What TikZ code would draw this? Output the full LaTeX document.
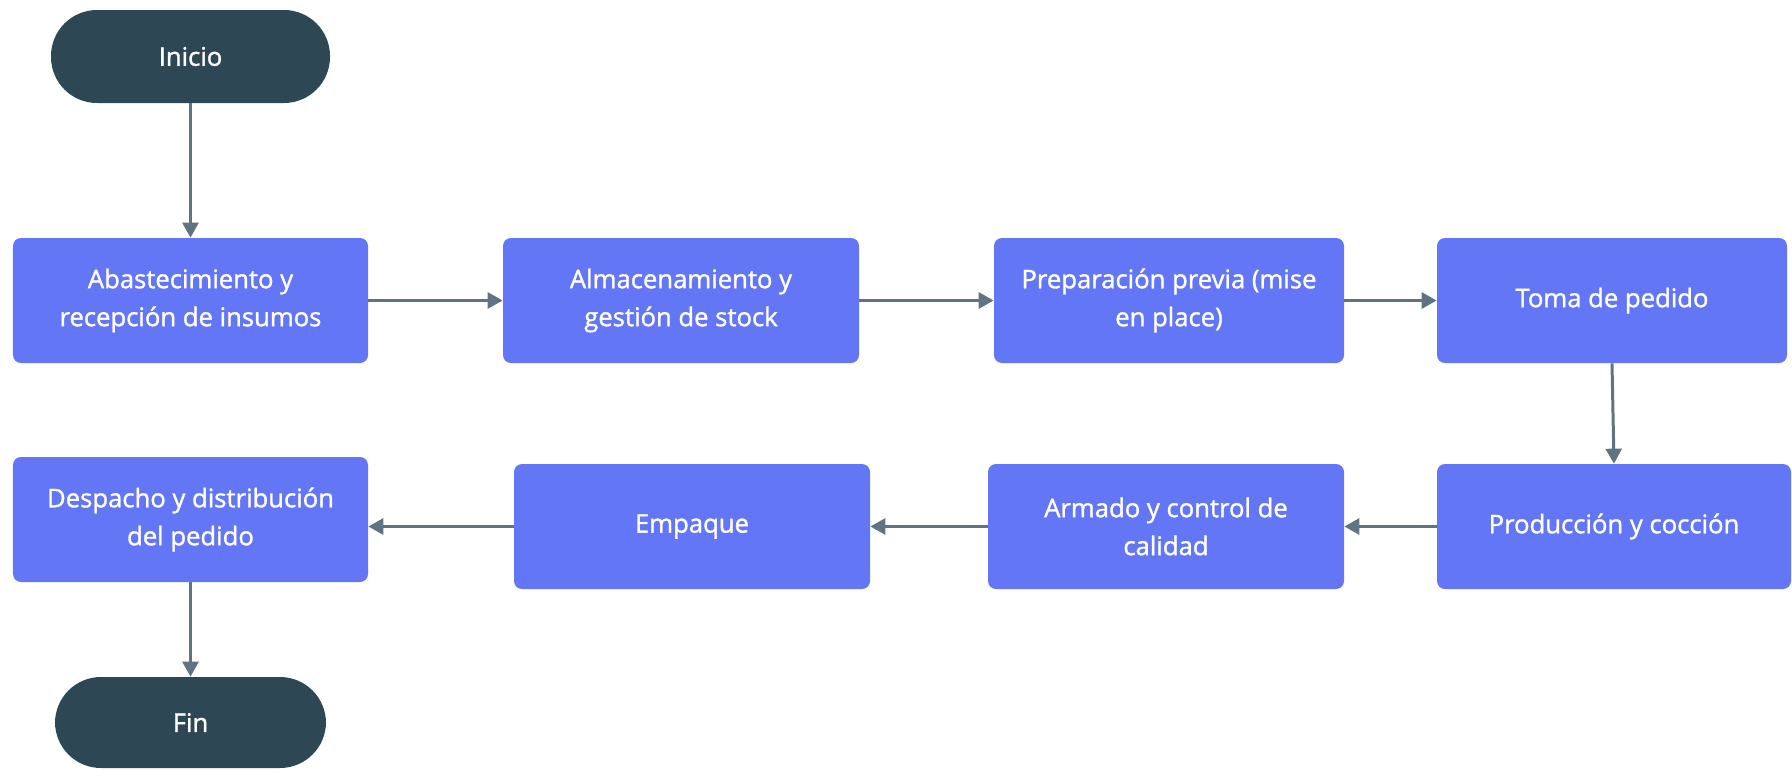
\documentclass[tikz,border=0pt]{standalone}
\usepackage{fontspec}
\setmainfont{Open Sans}[FakeBold=1.3]
\usetikzlibrary{arrows.meta}
\definecolor{boxblue}{RGB}{99,118,245}
\definecolor{termdark}{RGB}{45,71,84}
\definecolor{arrowgray}{RGB}{96,115,128}

\begin{document}
\begin{tikzpicture}
                        \tikzstyle{paso}=[fill=boxblue, text=white, rounded corners=0.16cm,
                            minimum width=7.1cm, minimum height=2.5cm, align=center,
                            font=\fontsize{14.6}{21.6}\selectfont]
                        \tikzstyle{terminal}=[fill=termdark, text=white, rounded corners=0.92cm,
                            minimum width=5.58cm, minimum height=1.86cm,
                            font=\fontsize{14.6}{21.6}\selectfont]
                        \tikzstyle{flecha}=[draw=arrowgray, line width=1.7pt,
                            -{Triangle[length=0.3cm,width=0.32cm]}]
                        \useasboundingbox (0,0) rectangle (35.84,-15.38);
                        % fila superior
                        \node[terminal] (inicio) at (3.81,-1.13) {Inicio};
                        \node[paso] (abast) at (3.81,-6.01) {Abastecimiento y\\recepción de insumos};
                        \node[paso, minimum width=7.12cm] (almac) at (13.62,-6.01) {Almacenamiento y\\gestión de stock};
                        \node[paso, minimum width=7cm] (prep) at (23.38,-6.01) {Preparación previa (mise\\en place)};
                        \node[paso, minimum width=7cm] (toma) at (32.24,-6.01) {Toma de pedido};
                        % fila inferior
                        \node[paso, minimum width=7.08cm] (prod) at (32.28,-10.53) {Producción y cocción};
                        \node[paso, minimum width=7.12cm] (armado) at (23.32,-10.53) {Armado y control de\\calidad};
                        \node[paso, minimum width=7.12cm] (empaque) at (13.84,-10.53) {Empaque};
                        \node[paso] (desp) at (3.81,-10.39) {Despacho y distribución\\del pedido};
                        \node[terminal, minimum width=5.42cm, minimum height=1.82cm] (fin) at (3.81,-14.45) {Fin};
                        % conectores
                        \draw[flecha] (inicio) -- (abast);
                        \draw[flecha] (abast) -- (almac);
                        \draw[flecha] (almac) -- (prep);
                        \draw[flecha] (prep) -- (toma);
                        \draw[flecha] (toma.south) -- (prod.north);
                        \draw[flecha] (prod) -- (armado);
                        \draw[flecha] (armado) -- (empaque);
                        \draw[flecha] (empaque.west) -- (empaque.west -| desp.east);
                        \draw[flecha] (desp) -- (fin);
                    \end{tikzpicture}
\end{document}
